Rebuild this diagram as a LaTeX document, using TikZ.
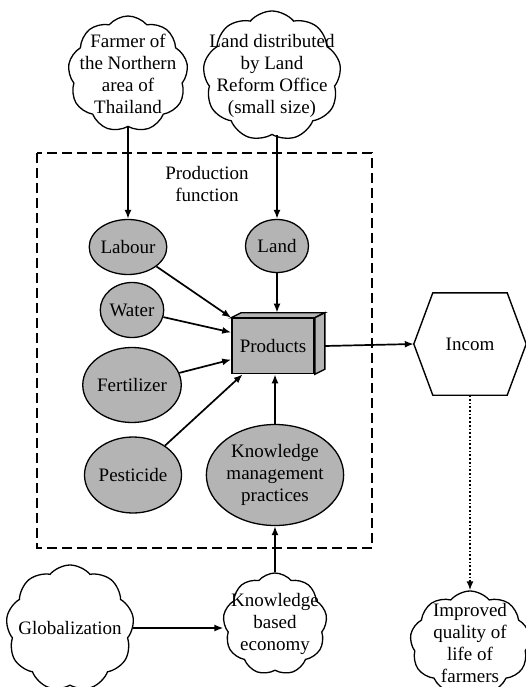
\documentclass[tikz,border=0pt]{standalone}
\usepackage{fontspec}
\setmainfont{Liberation Serif}
\usetikzlibrary{shapes.symbols,shapes.geometric,calc,arrows.meta}
\definecolor{factorgray}{RGB}{180,180,180}
\tikzset{
  factor/.style={ellipse,draw,line width=1.3pt,fill=factorgray,inner sep=0pt,align=center},
  puff/.style={cloud,draw,line width=1.3pt,cloud puffs=9,cloud puff arc=100,cloud ignores aspect,inner sep=0pt},
  puffmsg/.style={align=center,inner sep=0pt},
  arr/.style={-{Latex[length=9pt,width=7pt]},line width=1.7pt},
}

\begin{document}
\begin{tikzpicture}[x=1pt,y=-1pt,font=\fontsize{19}{22}\selectfont]
\useasboundingbox (0,0) rectangle (526,687);
% frame of the production function
\draw[line width=2pt,dash pattern=on 10pt off 5pt] (37,153) rectangle (372,548);
\node[align=center] (pfun) at (207,184) {Production\\function};
%
\node[puff,minimum width=120pt,minimum height=116pt,label={[puffmsg]center:Farmer of\\the Northern\\area of\\Thailand}] (farmer) at (128,74) {};
\node[puff,minimum width=138pt,minimum height=130pt,label={[puffmsg]center:Land distributed\\by Land\\Reform Office\\(small size)}] (landdist) at (272,76) {};
\node[puff,minimum width=128pt,minimum height=126pt,label={[puffmsg]center:Globalization}] (glob) at (70,628) {};
\node[puff,minimum width=104pt,minimum height=102pt,label={[puffmsg]center:Knowledge\\based\\economy}] (kbe) at (275,624) {};
\node[puff,minimum width=120pt,minimum height=104pt,label={[puffmsg]center:Improved\\quality of\\life of\\farmers}] (improved) at (470,643) {};
%
\node[factor,minimum width=63pt,minimum height=55pt] (labour) at (128,247) {Labour};
\node[factor,minimum width=63pt,minimum height=53pt] (land) at (277,246) {Land};
\node[factor,minimum width=63pt,minimum height=55pt] (water) at (132,310) {Water};
\node[factor,minimum width=81pt,minimum height=75pt] (fert) at (132,385) {Fertilizer};
\node[factor,minimum width=88pt,minimum height=76pt] (pest) at (133,475) {Pesticide};
\node[factor,minimum width=113pt,minimum height=101pt] (kmp) at (275,475) {Knowledge\\management\\practices};
% the products box
\node[draw,line width=1.6pt,fill=factorgray,minimum width=82pt,minimum height=55pt] (prod) at (273,346) {Products};
\draw[line width=1.4pt,fill=factorgray] (prod.north west) -- ([shift={(10,-5)}]prod.north west) -- ([shift={(10,-5)}]prod.north east) -- (prod.north east) -- cycle;
\draw[line width=1.4pt,fill=factorgray] (prod.north east) -- ([shift={(10,-5)}]prod.north east) -- ([shift={(10,-5)}]prod.south east) -- (prod.south east) -- cycle;
% income
\node[minimum width=112pt,minimum height=102pt] (incom) at (470,344) {Incom};
\draw[line width=1.4pt] (incom.west) -- ([xshift=19pt]incom.north west) -- ([xshift=-19pt]incom.north east) -- (incom.east) -- ([xshift=-19pt]incom.south east) -- ([xshift=19pt]incom.south west) -- cycle;
%
\draw[arr] (farmer.south) -- (labour);
\draw[arr] (land |- landdist.south) -- (land);
\draw[arr] (labour) -- (prod.north west);
\draw[arr] (water) -- (prod.162);
\draw[arr] (fert) -- (prod.198);
\draw[arr] (pest) -- (prod.223);
\draw[arr] (land) -- ([yshift=5pt]land |- prod.north);
\draw[arr] (kmp) -- (kmp |- prod.south);
\draw[arr] ([xshift=10pt]prod.east) -- (incom.west);
\draw[arr,dotted] (incom.south) -- (improved.north);
\draw[arr] (glob.east) -- (kbe.west |- glob.east);
\draw[arr] (kbe) -- (kmp);
\end{tikzpicture}
\end{document}
